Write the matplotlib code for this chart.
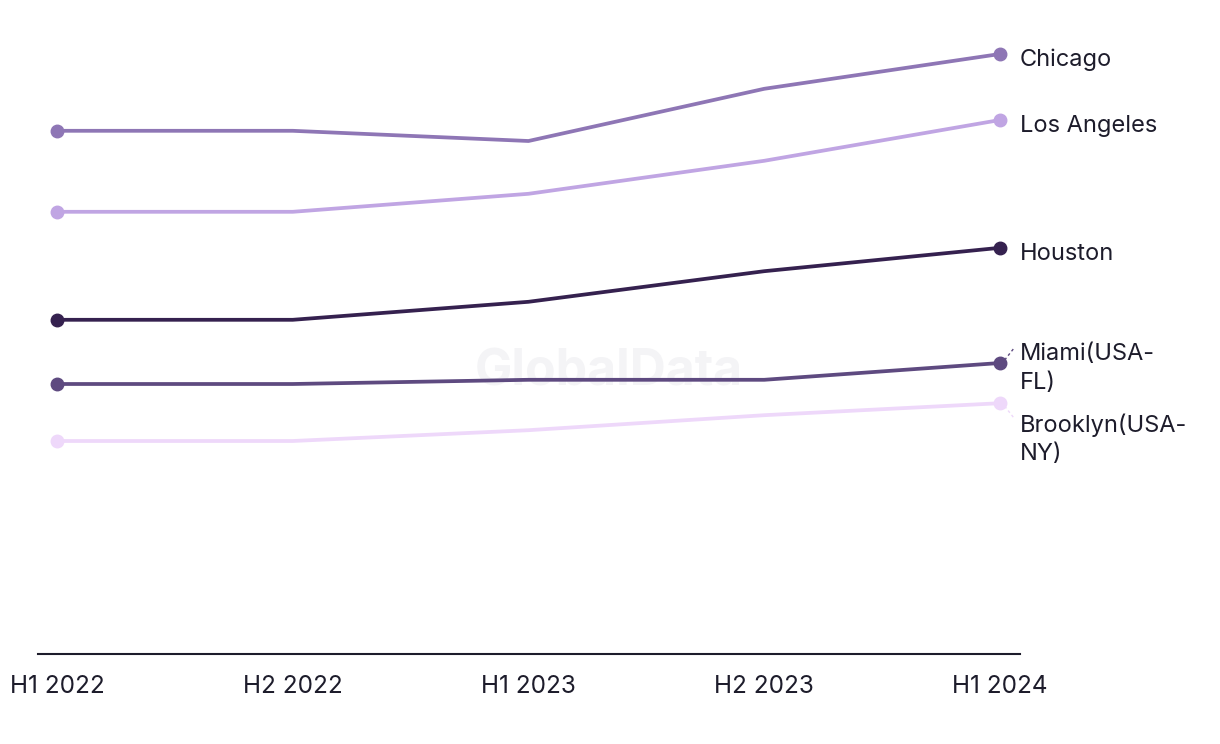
import matplotlib.pyplot as plt
import numpy as np

plt.rcParams['font.family'] = ['Inter', 'DejaVu Sans']

periods = ['H1 2022', 'H2 2022', 'H1 2023', 'H2 2023', 'H1 2024']
cities = ['Chicago', 'Los Angeles', 'Houston', 'Miami(USA-\nFL)', 'Brooklyn(USA-\nNY)']
chicago = [87.2, 87.2, 85.5, 94.2, 100.0]
los_angeles = [73.7, 73.7, 76.7, 82.2, 89.0]
houston = [55.7, 55.7, 58.7, 63.8, 67.7]
miami = [45.0, 45.0, 45.7, 45.7, 48.5]
brooklyn = [35.5, 35.5, 37.3, 39.8, 41.8]
colors = ['#8e76b5', '#c0a5e3', '#35214f', '#5e4a80', '#eed8fa']
# label offsets (data units) for end labels
label_dy = [-1.0, -1.0, -1.0, -0.9, -6.0]

series = [chicago, los_angeles, houston, miami, brooklyn]
text_color = '#1d1c2b'

fig = plt.figure(figsize=(12.2, 7.44), dpi=100)
ax = fig.add_axes([38 / 1220, 90 / 744, 982 / 1220, 654 / 744])
x = np.arange(len(periods))

ax.text(2.34, 47, 'GlobalData', fontsize=36, fontweight='bold', color='#f4f4f6',
        ha='center', va='center', zorder=0)

for name, vals, c, dy in zip(cities, series, colors, label_dy):
    ax.plot(x, vals, color=c, lw=2.7, zorder=3, solid_capstyle='round')
    ax.plot([x[0], x[-1]], [vals[0], vals[-1]], 'o', color=c, ms=9, zorder=4)
    ax.text(x[-1] + 0.085, vals[-1] + dy, name, fontsize=17, color=text_color,
            ha='left', va='center', linespacing=1.4)
    if '\n' in name:
        sgn = 1 if dy > -3 else -1
        ax.plot([x[-1] + 0.02, x[-1] + 0.06], [vals[-1] + 0.5 * sgn, vals[-1] + 2.5 * sgn],
                ls=(0, (2, 2)), color=c, lw=1, zorder=2)

ax.set_xlim(-0.0806, 4.085)
ax.set_ylim(0, 109)
ax.set_xticks(x)
ax.set_xticklabels(periods, fontsize=17.5, color=text_color)
ax.tick_params(axis='x', length=0, pad=15)
ax.set_yticks([])
for s in ['top', 'right', 'left']:
    ax.spines[s].set_visible(False)
ax.spines['bottom'].set_color(text_color)
ax.spines['bottom'].set_linewidth(1.5)

fig.savefig('out.png', dpi=100)
